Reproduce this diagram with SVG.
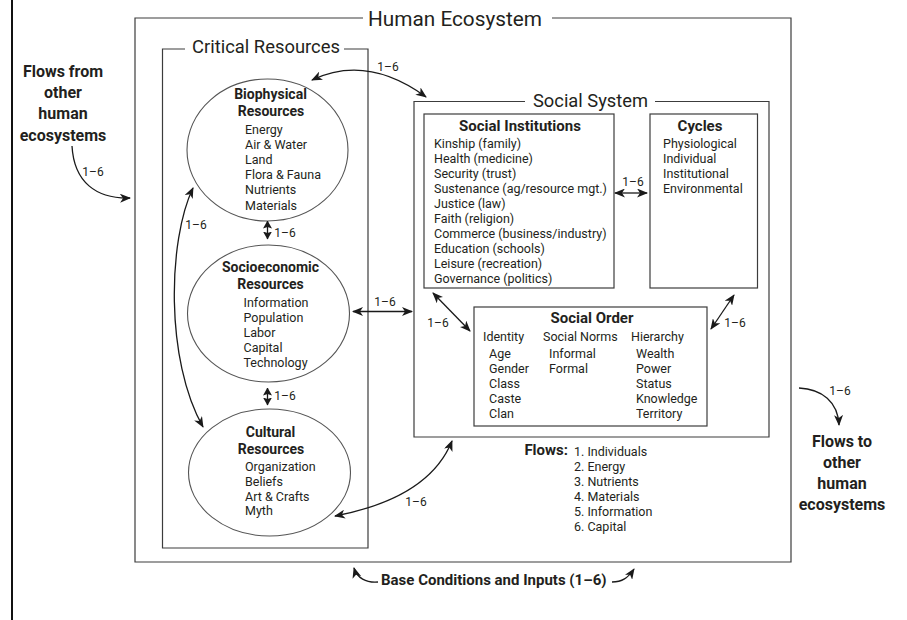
<svg xmlns="http://www.w3.org/2000/svg" width="907" height="620" viewBox="0 0 907 620">
<defs>
<marker id="ah" markerUnits="userSpaceOnUse" markerWidth="11" markerHeight="9" viewBox="0 0 11 9" refX="10" refY="4.5" orient="auto-start-reverse">
<path d="M0,0 L11,4.5 L0,9 L3,4.5 z" fill="#1a1a1a"/>
</marker>
<marker id="ahw" markerUnits="userSpaceOnUse" markerWidth="8" markerHeight="9" viewBox="0 0 8 9" refX="7.5" refY="4.5" orient="auto-start-reverse">
<path d="M0,0 L8,4.5 L0,9 L1.5,4.5 z" fill="#1a1a1a"/>
</marker>
<style>
text{font-family:Roboto,"Liberation Sans",sans-serif;fill:#231f20}
.t{font-weight:normal}
.h{font-size:14px;font-weight:bold;text-anchor:middle}
.i{font-size:12.5px}
.s{font-size:16px;font-weight:bold;text-anchor:middle}
.n{font-size:12px;text-anchor:middle}
.box{fill:none;stroke:#3c3c3c;stroke-width:1.2}
.ell{fill:#fff;stroke:#555;stroke-width:1.1}
.c{fill:none;stroke:#1a1a1a;stroke-width:1.3}
.cd{marker-start:url(#ah);marker-end:url(#ah)}
.ce{marker-end:url(#ah)}
</style>
</defs>
<rect width="907" height="620" fill="#fff"/>
<line x1="12" y1="0" x2="12" y2="620" stroke="#111" stroke-width="2"/>

<g id="human-ecosystem">
<path class="box" d="M363,18 L135,18 L135,562 L791,562 L791,18 L552,18"/>
<text class="t" x="368" y="25.5" font-size="20" textLength="174" lengthAdjust="spacingAndGlyphs">Human Ecosystem</text>
</g>

<g id="critical-resources">
<path class="box" d="M185,49 L162.5,49 L162.5,548 L368,548 L368,49 L344,49"/>
<text class="t" x="192" y="52.5" font-size="18" textLength="148" lengthAdjust="spacingAndGlyphs">Critical Resources</text>
</g>

<g id="biophysical">
<ellipse class="ell" cx="267.5" cy="150" rx="80.5" ry="71"/>
<text class="h" x="270.5" y="99">Biophysical</text>
<text class="h" x="271" y="115.5">Resources</text>
<text class="i" x="245" y="133.5">Energy</text>
<text class="i" x="245" y="148.7">Air &amp; Water</text>
<text class="i" x="245" y="163.9">Land</text>
<text class="i" x="245" y="179.1">Flora &amp; Fauna</text>
<text class="i" x="245" y="194.3">Nutrients</text>
<text class="i" x="245" y="209.5">Materials</text>
</g>

<g id="socioeconomic">
<ellipse class="ell" cx="268.5" cy="313.5" rx="81" ry="68.5"/>
<text class="h" x="270.5" y="272">Socioeconomic</text>
<text class="h" x="270.5" y="288.5">Resources</text>
<text class="i" x="243.5" y="306.5">Information</text>
<text class="i" x="243.5" y="321.5">Population</text>
<text class="i" x="243.5" y="336.5">Labor</text>
<text class="i" x="243.5" y="351.5">Capital</text>
<text class="i" x="243.5" y="366.5">Technology</text>
</g>

<g id="cultural">
<ellipse class="ell" cx="269.5" cy="472.5" rx="81" ry="63.5"/>
<text class="h" x="270.5" y="437">Cultural</text>
<text class="h" x="271" y="453.5">Resources</text>
<text class="i" x="245" y="470.5">Organization</text>
<text class="i" x="245" y="485.5">Beliefs</text>
<text class="i" x="245" y="500.5">Art &amp; Crafts</text>
<text class="i" x="245" y="515">Myth</text>
</g>

<g id="social-system">
<path class="box" d="M525,101.5 L414,101.5 L414,437 L769,437 L769,101.5 L655,101.5"/>
<text class="t" x="533" y="106.5" font-size="17.5" textLength="115" lengthAdjust="spacingAndGlyphs">Social System</text>
</g>

<g id="social-institutions">
<rect class="box" x="424" y="114" width="190" height="174"/>
<text class="h" x="520" y="131" style="font-size:15px">Social Institutions</text>
<text class="i" x="434" y="147.5">Kinship (family)</text>
<text class="i" x="434" y="162.5">Health (medicine)</text>
<text class="i" x="434" y="177.5">Security (trust)</text>
<text class="i" x="434" y="192.5">Sustenance (ag/resource mgt.)</text>
<text class="i" x="434" y="207.5">Justice (law)</text>
<text class="i" x="434" y="222.5">Faith (religion)</text>
<text class="i" x="434" y="237.5">Commerce (business/industry)</text>
<text class="i" x="434" y="252.5">Education (schools)</text>
<text class="i" x="434" y="267.5">Leisure (recreation)</text>
<text class="i" x="434" y="282.5">Governance (politics)</text>
</g>

<g id="cycles">
<rect class="box" x="650" y="114" width="107.5" height="174"/>
<text class="h" x="700" y="131" style="font-size:15px">Cycles</text>
<text class="i" x="663" y="147.5">Physiological</text>
<text class="i" x="663" y="162.5">Individual</text>
<text class="i" x="663" y="177.5">Institutional</text>
<text class="i" x="663" y="192.5">Environmental</text>
</g>

<g id="social-order">
<rect class="box" x="474" y="307" width="233" height="119"/>
<text class="h" x="592" y="323" style="font-size:15px">Social Order</text>
<text class="i" x="483" y="340.5">Identity</text>
<text class="i" x="543" y="340.5">Social Norms</text>
<text class="i" x="631" y="340.5">Hierarchy</text>
<text class="i" x="489" y="357.5">Age</text>
<text class="i" x="489" y="372.5">Gender</text>
<text class="i" x="489" y="387.5">Class</text>
<text class="i" x="489" y="402.5">Caste</text>
<text class="i" x="489" y="417.5">Clan</text>
<text class="i" x="549" y="357.5">Informal</text>
<text class="i" x="549" y="372.5">Formal</text>
<text class="i" x="636" y="357.5">Wealth</text>
<text class="i" x="636" y="372.5">Power</text>
<text class="i" x="636" y="387.5">Status</text>
<text class="i" x="636" y="402.5">Knowledge</text>
<text class="i" x="636" y="417.5">Territory</text>
</g>

<g id="flows-list">
<text x="568" y="455" font-size="15" font-weight="bold" text-anchor="end">Flows:</text>
<text class="i" x="574" y="455.5">1. Individuals</text>
<text class="i" x="574" y="470.5">2. Energy</text>
<text class="i" x="574" y="485.5">3. Nutrients</text>
<text class="i" x="574" y="500.5">4. Materials</text>
<text class="i" x="574" y="515.5">5. Information</text>
<text class="i" x="574" y="530.5">6. Capital</text>
</g>

<g id="flows-from">
<text class="s" x="63" y="77">Flows from</text>
<text class="s" x="63" y="98">other</text>
<text class="s" x="63" y="119">human</text>
<text class="s" x="63" y="140.5">ecosystems</text>
</g>

<g id="flows-to">
<text class="s" x="842" y="447">Flows to</text>
<text class="s" x="842" y="468">other</text>
<text class="s" x="842" y="489">human</text>
<text class="s" x="842" y="510">ecosystems</text>
</g>

<g id="base-conditions">
<text x="381" y="585" font-size="15" font-weight="bold">Base Conditions and Inputs (1–6)</text>
</g>

<g id="connectors">
<path class="c cd" d="M312,80 Q367,54 426,97"/>
<text class="n" x="388" y="71">1–6</text>
<path class="c ce" d="M72,146 C74,182 96,199 130,198"/>
<text class="n" x="93" y="176">1–6</text>
<path class="c cd" d="M193,188 C168,240 165,360 203,427"/>
<text class="n" x="196" y="229">1–6</text>
<line class="c" x1="267.5" y1="221" x2="267.5" y2="239" style="marker-start:url(#ahw);marker-end:url(#ahw)"/>
<text class="n" x="285" y="236.5">1–6</text>
<line class="c" x1="267.5" y1="388" x2="267.5" y2="405" style="marker-start:url(#ahw);marker-end:url(#ahw)"/>
<text class="n" x="285" y="399.5">1–6</text>
<line class="c cd" x1="353" y1="311.5" x2="412" y2="311.5"/>
<text class="n" x="385" y="306">1–6</text>
<line class="c cd" x1="615" y1="193" x2="647" y2="193"/>
<text class="n" x="633" y="186">1–6</text>
<line class="c cd" x1="433" y1="293" x2="470" y2="331"/>
<text class="n" x="438" y="326.5">1–6</text>
<line class="c cd" x1="711" y1="329" x2="734" y2="295"/>
<text class="n" x="735" y="327">1–6</text>
<path class="c cd" d="M335,516 C382,507 433,488 452,441"/>
<text class="n" x="416" y="506">1–6</text>
<path class="c ce" d="M799,388 C822,389 838,402 839,425"/>
<text class="n" x="840" y="395">1–6</text>
<path class="c ce" d="M378,582 C366,583 357,578 354,568"/>
<path class="c ce" d="M612,582 C622,582 628,578 634,569"/>
</g>
</svg>
